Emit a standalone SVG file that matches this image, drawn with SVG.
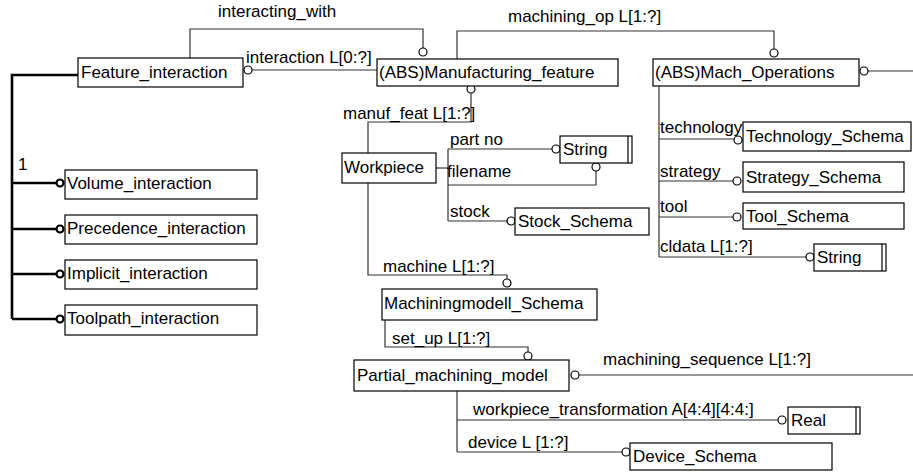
<svg xmlns="http://www.w3.org/2000/svg" width="913" height="472" viewBox="0 0 913 472">
<style>
  text { font-family: "Liberation Sans", Arial, sans-serif; font-size: 17px; fill: #000; }
  .box { fill: #fff; stroke: #000; stroke-width: 1.2; }
  .ln { fill: none; stroke: #333; stroke-width: 1.2; }
  .thick { fill: none; stroke: #000; stroke-width: 2.6; }
  .c { fill: #fff; stroke: #000; stroke-width: 1.2; }
  .cb { fill: #fff; stroke: #000; stroke-width: 2.2; }
</style>
<rect width="913" height="472" fill="#fff"/>

<!-- connectors -->
<g id="connectors">
  <!-- supertype tree for Feature_interaction -->
  <polyline class="thick" points="78,75 12,75 12,319"/>
  <line class="thick" x1="12" y1="183" x2="57" y2="183"/>
  <line class="thick" x1="12" y1="229" x2="57" y2="229"/>
  <line class="thick" x1="12" y1="274" x2="57" y2="274"/>
  <line class="thick" x1="12" y1="319" x2="57" y2="319"/>
  <circle class="cb" cx="60" cy="183" r="3.5"/>
  <circle class="cb" cx="60" cy="229" r="3.5"/>
  <circle class="cb" cx="60" cy="274" r="3.5"/>
  <circle class="cb" cx="60" cy="319" r="3.5"/>

  <!-- interacting_with -->
  <polyline class="ln" points="190,58 190,29 423,29 423,48"/>
  <circle class="c" cx="423" cy="52" r="4"/>
  <!-- interaction L[0:?] -->
  <line class="ln" x1="252" y1="70" x2="377" y2="70"/>
  <circle class="c" cx="248" cy="70" r="4"/>

  <!-- machining_op L[1:?] -->
  <polyline class="ln" points="457,59 457,31 774,31 774,49"/>
  <circle class="c" cx="774" cy="53" r="4"/>
  <!-- Mach_Operations outgoing -->
  <line class="ln" x1="868" y1="71" x2="913" y2="71"/>
  <circle class="c" cx="864" cy="71" r="4"/>

  <!-- manuf_feat L[1:?] -->
  <circle class="c" cx="471" cy="89" r="4"/>
  <polyline class="ln" points="471,93 471,122 368,122 368,153"/>

  <!-- Workpiece attributes -->
  <line class="ln" x1="436" y1="168" x2="448" y2="168"/>
  <line class="ln" x1="448" y1="149" x2="448" y2="221"/>
  <line class="ln" x1="448" y1="149" x2="552" y2="149"/>
  <circle class="c" cx="556" cy="149" r="4"/>
  <polyline class="ln" points="448,185 596,185 596,171"/>
  <circle class="c" cx="596" cy="167" r="4"/>
  <line class="ln" x1="448" y1="221" x2="507" y2="221"/>
  <circle class="c" cx="511" cy="221" r="4"/>

  <!-- machine L[1:?] -->
  <polyline class="ln" points="368,183 368,275 507,275 507,279"/>
  <circle class="c" cx="507" cy="283" r="4"/>

  <!-- set_up L[1:?] -->
  <polyline class="ln" points="385,320 385,347 528,347 528,352"/>
  <circle class="c" cx="528" cy="356" r="4"/>

  <!-- machining_sequence L[1:?] -->
  <line class="ln" x1="579" y1="375" x2="913" y2="375"/>
  <circle class="c" cx="575" cy="375" r="4"/>

  <!-- Partial_machining_model attributes -->
  <line class="ln" x1="457" y1="391" x2="457" y2="452"/>
  <line class="ln" x1="457" y1="420" x2="778" y2="420"/>
  <circle class="c" cx="782" cy="420" r="4"/>
  <line class="ln" x1="457" y1="452" x2="622" y2="452"/>
  <circle class="c" cx="626" cy="452" r="4"/>

  <!-- Mach_Operations attributes -->
  <line class="ln" x1="659" y1="86" x2="659" y2="257"/>
  <line class="ln" x1="659" y1="139" x2="734" y2="139"/>
  <circle class="c" cx="738" cy="140" r="4"/>
  <line class="ln" x1="659" y1="181" x2="733" y2="181"/>
  <circle class="c" cx="737" cy="181" r="4"/>
  <line class="ln" x1="659" y1="217" x2="733" y2="217"/>
  <circle class="c" cx="737" cy="217" r="4"/>
  <line class="ln" x1="659" y1="257" x2="806" y2="257"/>
  <circle class="c" cx="810" cy="257" r="4"/>
</g>

<!-- connector labels -->
<g id="labels">
  <text x="218" y="17">interacting_with</text>
  <text x="246" y="63">interaction L[0:?]</text>
  <text x="508" y="22">machining_op L[1:?]</text>
  <text x="343" y="119">manuf_feat L[1:?]</text>
  <text x="450" y="145">part no</text>
  <text x="447" y="177">filename</text>
  <text x="450" y="217">stock</text>
  <text x="383" y="272">machine L[1:?]</text>
  <text x="392" y="344">set_up L[1:?]</text>
  <text x="603" y="365">machining_sequence L[1:?]</text>
  <text x="473" y="415">workpiece_transformation A[4:4][4:4:]</text>
  <text x="468" y="448">device L [1:?]</text>
  <text x="660" y="133">technology</text>
  <text x="660" y="177">strategy</text>
  <text x="660" y="212">tool</text>
  <text x="660" y="252">cldata L[1:?]</text>
  <text x="18" y="170">1</text>
</g>

<g id="Feature_interaction">
  <rect class="box" x="78" y="58" width="165" height="29"/>
  <text x="81" y="78">Feature_interaction</text>
</g>
<g id="Manufacturing_feature">
  <rect class="box" x="377" y="59" width="241" height="27"/>
  <text x="379" y="78">(ABS)Manufacturing_feature</text>
</g>
<g id="Mach_Operations">
  <rect class="box" x="653" y="59" width="206" height="27"/>
  <text x="655" y="78">(ABS)Mach_Operations</text>
</g>
<g id="Volume_interaction">
  <rect class="box" x="65" y="170" width="192" height="29"/>
  <text x="67" y="189">Volume_interaction</text>
</g>
<g id="Precedence_interaction">
  <rect class="box" x="65" y="215" width="192" height="29"/>
  <text x="67" y="234">Precedence_interaction</text>
</g>
<g id="Implicit_interaction">
  <rect class="box" x="65" y="260" width="192" height="29"/>
  <text x="67" y="279">Implicit_interaction</text>
</g>
<g id="Toolpath_interaction">
  <rect class="box" x="65" y="305" width="192" height="30"/>
  <text x="67" y="324">Toolpath_interaction</text>
</g>
<g id="Workpiece">
  <rect class="box" x="342" y="153" width="94" height="30"/>
  <text x="344" y="173">Workpiece</text>
</g>
<g id="String_1">
  <rect class="box" x="560" y="136" width="72" height="27"/>
  <line class="box" x1="628" y1="136" x2="628" y2="163"/>
  <text x="563" y="155">String</text>
</g>
<g id="Stock_Schema">
  <rect class="box" x="515" y="208" width="134" height="27"/>
  <text x="518" y="227">Stock_Schema</text>
</g>
<g id="Machiningmodell_Schema">
  <rect class="box" x="382" y="289" width="215" height="31"/>
  <text x="384" y="309">Machiningmodell_Schema</text>
</g>
<g id="Partial_machining_model">
  <rect class="box" x="354" y="360" width="215" height="31"/>
  <text x="357" y="381">Partial_machining_model</text>
</g>
<g id="Real">
  <rect class="box" x="788" y="407" width="72" height="27"/>
  <line class="box" x1="856" y1="407" x2="856" y2="434"/>
  <text x="791" y="426">Real</text>
</g>
<g id="Device_Schema">
  <rect class="box" x="630" y="443" width="202" height="27"/>
  <text x="633" y="462">Device_Schema</text>
</g>
<g id="Technology_Schema">
  <rect class="box" x="743" y="122" width="168" height="29"/>
  <text x="746" y="142">Technology_Schema</text>
</g>
<g id="Strategy_Schema">
  <rect class="box" x="743" y="162" width="161" height="30"/>
  <text x="746" y="183">Strategy_Schema</text>
</g>
<g id="Tool_Schema">
  <rect class="box" x="743" y="203" width="161" height="26"/>
  <text x="746" y="222">Tool_Schema</text>
</g>
<g id="String_2">
  <rect class="box" x="814" y="244" width="72" height="27"/>
  <line class="box" x1="882" y1="244" x2="882" y2="271"/>
  <text x="817" y="263">String</text>
</g>
</svg>
